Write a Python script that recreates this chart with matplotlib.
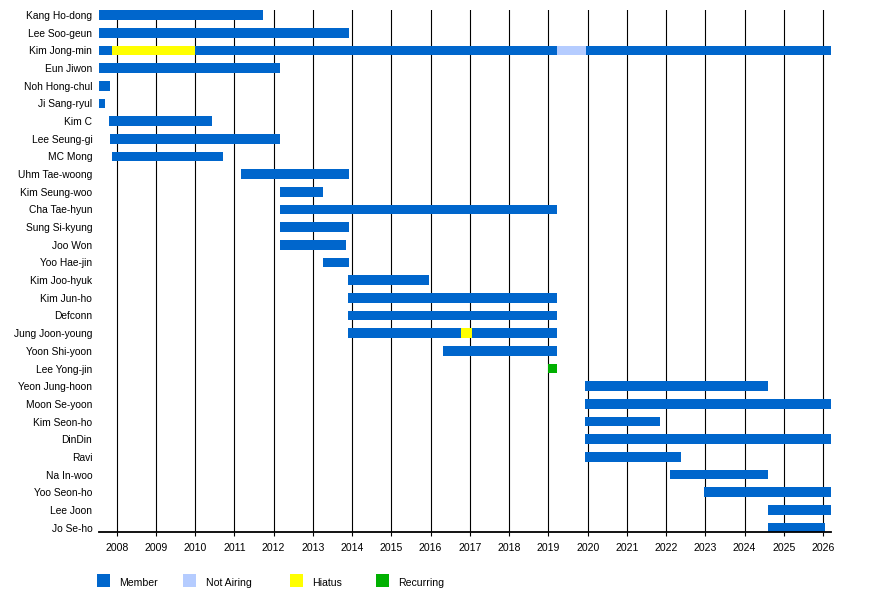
import matplotlib
matplotlib.use('Agg')
import matplotlib.pyplot as plt
import numpy as np
from matplotlib.patches import Rectangle

plt.rcParams['font.family'] = ['Liberation Sans', 'DejaVu Sans']

# cast members, top to bottom
members = ["Kang Ho-dong", "Lee Soo-geun", "Kim Jong-min", "Eun Jiwon", "Noh Hong-chul",
           "Ji Sang-ryul", "Kim C", "Lee Seung-gi", "MC Mong", "Uhm Tae-woong",
           "Kim Seung-woo", "Cha Tae-hyun", "Sung Si-kyung", "Joo Won", "Yoo Hae-jin",
           "Kim Joo-hyuk", "Kim Jun-ho", "Defconn", "Jung Joon-young", "Yoon Shi-yoon",
           "Lee Yong-jin", "Yeon Jung-hoon", "Moon Se-yoon", "Kim Seon-ho", "DinDin",
           "Ravi", "Na In-woo", "Yoo Seon-ho", "Lee Joon", "Jo Se-ho"]

# membership periods (decimal years), nan = no membership bar
member_start = [2007.56, 2007.56, 2007.56, 2007.56, 2007.56,
                2007.56, 2007.80, 2007.82, 2007.89, 2011.16,
                2012.16, 2012.16, 2012.16, 2012.16, 2013.25,
                2013.89, 2013.89, 2013.89, 2013.89, 2016.31,
                np.nan, 2019.94, 2019.94, 2019.94, 2019.94,
                2019.94, 2022.11, 2022.96, 2024.59, 2024.59]
member_end = [2011.73, 2013.92, 2026.20, 2012.16, 2007.83,
              2007.70, 2010.43, 2012.16, 2010.70, 2013.92,
              2013.25, 2019.22, 2013.92, 2013.84, 2013.92,
              2015.96, 2019.22, 2019.22, 2019.22, 2019.22,
              np.nan, 2024.59, 2026.20, 2021.84, 2026.20,
              2022.38, 2024.59, 2026.20, 2026.20, 2026.05]

# overlays
hiatus_who = ["Kim Jong-min", "Jung Joon-young"]
hiatus_start = [2007.88, 2016.78]
hiatus_end = [2009.99, 2017.05]

not_airing_who = ["Kim Jong-min"]
not_airing_start = [2019.22]
not_airing_end = [2019.96]

recurring_who = ["Lee Yong-jin"]
recurring_start = [2018.99]
recurring_end = [2019.22]

years = list(range(2008, 2027))

COL_MEMBER = '#0066CC'
COL_NOTAIR = '#B5CCFF'
COL_HIATUS = '#FFFF00'
COL_RECUR = '#00B000'

fig = plt.figure(figsize=(8.8, 5.97), dpi=100)
ax = fig.add_axes([99.3 / 880, 64.7 / 597, (831 - 99.3) / 880, (532.3 - 10) / 597])

bh = 0.56
rows = np.arange(len(members))
idx = {m: i for i, m in enumerate(members)}

s = np.array(member_start)
e = np.array(member_end)
ok = ~np.isnan(s)
ax.barh(rows[ok], e[ok] - s[ok], left=s[ok], height=bh, color=COL_MEMBER, zorder=3)

for who, st, en, col in [(hiatus_who, hiatus_start, hiatus_end, COL_HIATUS),
                         (not_airing_who, not_airing_start, not_airing_end, COL_NOTAIR),
                         (recurring_who, recurring_start, recurring_end, COL_RECUR)]:
    r = [idx[w] for w in who]
    ax.barh(r, np.array(en) - np.array(st), left=st, height=bh, color=col, zorder=4)

# year lines
for y in years:
    ax.axvline(y, color='black', lw=0.8, zorder=1)

ax.set_xlim(2007.557, 2026.20)
ax.set_ylim(len(members) - 1 + 0.27, -0.29)

ax.set_xticks(years)
ax.set_xticklabels([str(y) for y in years], fontsize=7.6)
ax.tick_params(axis='x', length=3, width=0.8, pad=5, color='black')
ax.set_yticks(rows)
ax.set_yticklabels(members, fontsize=7.4)
ax.tick_params(axis='y', length=0, pad=5)

for sp in ['top', 'right', 'left']:
    ax.spines[sp].set_visible(False)
ax.spines['bottom'].set_linewidth(1.3)
ax.spines['bottom'].set_zorder(5)

# legend drawn below the axis
legend_items = [("Member", COL_MEMBER, 96.7), ("Not Airing", COL_NOTAIR, 183.3),
                ("Hiatus", COL_HIATUS, 290.0), ("Recurring", COL_RECUR, 376.0)]
for label, col, px in legend_items:
    fig.add_artist(Rectangle((px / 880, (597 - 587) / 597), 13 / 880, 13 / 597,
                             transform=fig.transFigure, facecolor=col, edgecolor='none'))
    fig.text((px + 22.5) / 880, (597 - 582.5) / 597, label, fontsize=7.6,
             va='center', ha='left')

fig.savefig('out.png', dpi=100)
